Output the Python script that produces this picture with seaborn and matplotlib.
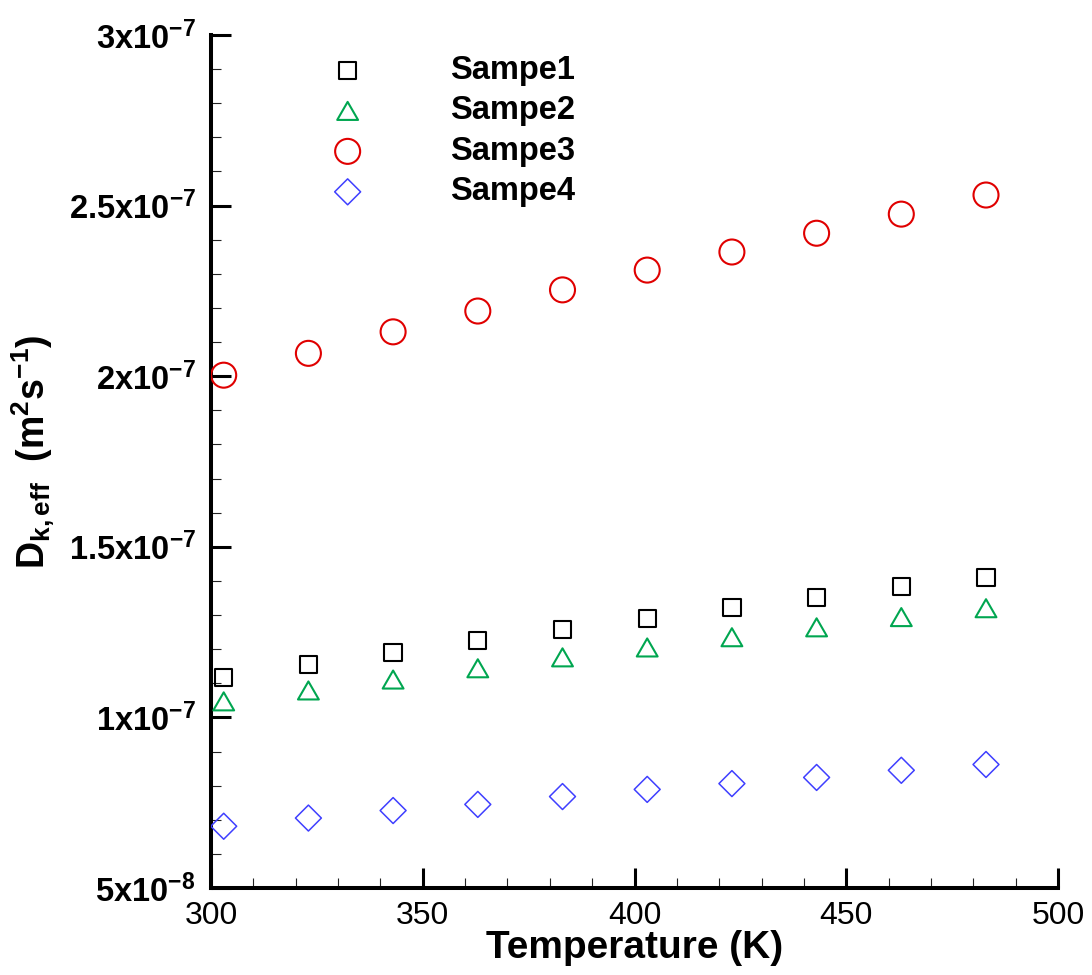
import matplotlib
matplotlib.use("Agg")
import matplotlib.pyplot as plt
import seaborn as sns
from matplotlib.path import Path
from matplotlib.ticker import MultipleLocator

# Temperature (K) and effective diffusivity (m^2 s^-1) for each sample
temperature = [303, 323, 343, 363, 383, 403, 423, 443, 463, 483]
sampe1 = [11.17e-8, 11.55e-8, 11.90e-8, 12.26e-8, 12.58e-8, 12.90e-8, 13.22e-8, 13.52e-8, 13.84e-8, 14.10e-8]
sampe2 = [10.47e-8, 10.79e-8, 11.11e-8, 11.44e-8, 11.76e-8, 12.05e-8, 12.35e-8, 12.64e-8, 12.94e-8, 13.20e-8]
sampe3 = [20.03e-8, 20.67e-8, 21.30e-8, 21.91e-8, 22.53e-8, 23.11e-8, 23.64e-8, 24.19e-8, 24.75e-8, 25.31e-8]
sampe4 = [6.81e-8, 7.05e-8, 7.27e-8, 7.45e-8, 7.68e-8, 7.89e-8, 8.06e-8, 8.24e-8, 8.45e-8, 8.62e-8]

series_names = ["Sampe1", "Sampe2", "Sampe3", "Sampe4"]
series_values = [sampe1, sampe2, sampe3, sampe4]

xtick_values = [300, 350, 400, 450, 500]
ytick_values = [5e-8, 1e-7, 1.5e-7, 2e-7, 2.5e-7, 3e-7]
ytick_labels = ["5x10^{-8}", "1x10^{-7}", "1.5x10^{-7}", "2x10^{-7}", "2.5x10^{-7}", "3x10^{-7}"]

sns.set_style("white")
plt.rcParams["font.family"] = ["Liberation Sans", "DejaVu Sans"]
plt.rcParams["mathtext.fontset"] = "custom"
plt.rcParams["mathtext.rm"] = "Liberation Sans"
plt.rcParams["mathtext.it"] = "Liberation Sans:italic"
plt.rcParams["mathtext.bf"] = "Liberation Sans:bold"
for key in ["text.color", "axes.labelcolor", "xtick.color", "ytick.color"]:
    plt.rcParams[key] = "black"

# equilateral open triangle, centred on its bounding box
tri = Path([(0, 0.433), (-0.5, -0.433), (0.5, -0.433), (0, 0.433)],
           [Path.MOVETO, Path.LINETO, Path.LINETO, Path.CLOSEPOLY])

styles = [
    dict(marker="s", color="#000000", ms=12.5, lw=1.5),
    dict(marker=tri, color="#00a650", ms=15.0, lw=1.5),
    dict(marker="o", color="#e00000", ms=18.0, lw=1.5),
    dict(marker="D", color="#3f3fff", ms=13.2, lw=1.1),
]

fig = plt.figure(figsize=(10.92, 9.75), dpi=100)
ax = fig.add_axes([211 / 1092, 87 / 975, 847 / 1092, 853 / 975])

for name, vals, st in zip(series_names, series_values, styles):
    sns.scatterplot(x=temperature, y=vals, ax=ax, marker=st["marker"],
                    s=st["ms"] ** 2, facecolor="none", edgecolor=st["color"],
                    linewidth=st["lw"], label=name, zorder=3)

ax.set_xlim(300, 500)
ax.set_ylim(5e-8, 3e-7)
ax.set_xticks(xtick_values)
ax.set_xticklabels([str(v) for v in xtick_values], fontsize=23)
ax.set_yticks(ytick_values)
ax.set_yticklabels([r"$\mathbf{" + t + "}$" for t in ytick_labels], fontsize=23.5)
ax.xaxis.set_minor_locator(MultipleLocator(10))
ax.yaxis.set_minor_locator(MultipleLocator(1e-8))

for side in ["top", "right"]:
    ax.spines[side].set_visible(False)
for side in ["left", "bottom"]:
    ax.spines[side].set_linewidth(2.9)
    ax.spines[side].set_color("black")

ax.tick_params(which="major", direction="in", length=14.5, width=2.2,
               color="black", left=True, bottom=True, top=False, right=False)
ax.tick_params(which="minor", direction="in", length=7.5, width=0.8,
               color="#222222", left=True, bottom=True, top=False, right=False)
ax.tick_params(axis="y", which="major", pad=11)
ax.tick_params(axis="x", which="major", pad=9)

ax.set_xlabel("Temperature (K)", fontsize=28, fontweight="bold", labelpad=0)
ax.set_ylabel(r"$\mathbf{D_{k,eff}}$  $\mathbf{(m^{2}s^{-1})}$", fontsize=27)
ax.yaxis.set_label_coords(-0.182, 0.511)

leg = ax.legend(loc="upper left", bbox_to_anchor=(315 / 1092, 1 - 55 / 975),
                bbox_transform=fig.transFigure, frameon=False, borderpad=0,
                borderaxespad=0, scatterpoints=1, handlelength=2.0,
                handletextpad=2.13, labelspacing=0.29,
                prop={"size": 23.5, "weight": "bold"})

fig.savefig("out.png", dpi=100, facecolor="white")
